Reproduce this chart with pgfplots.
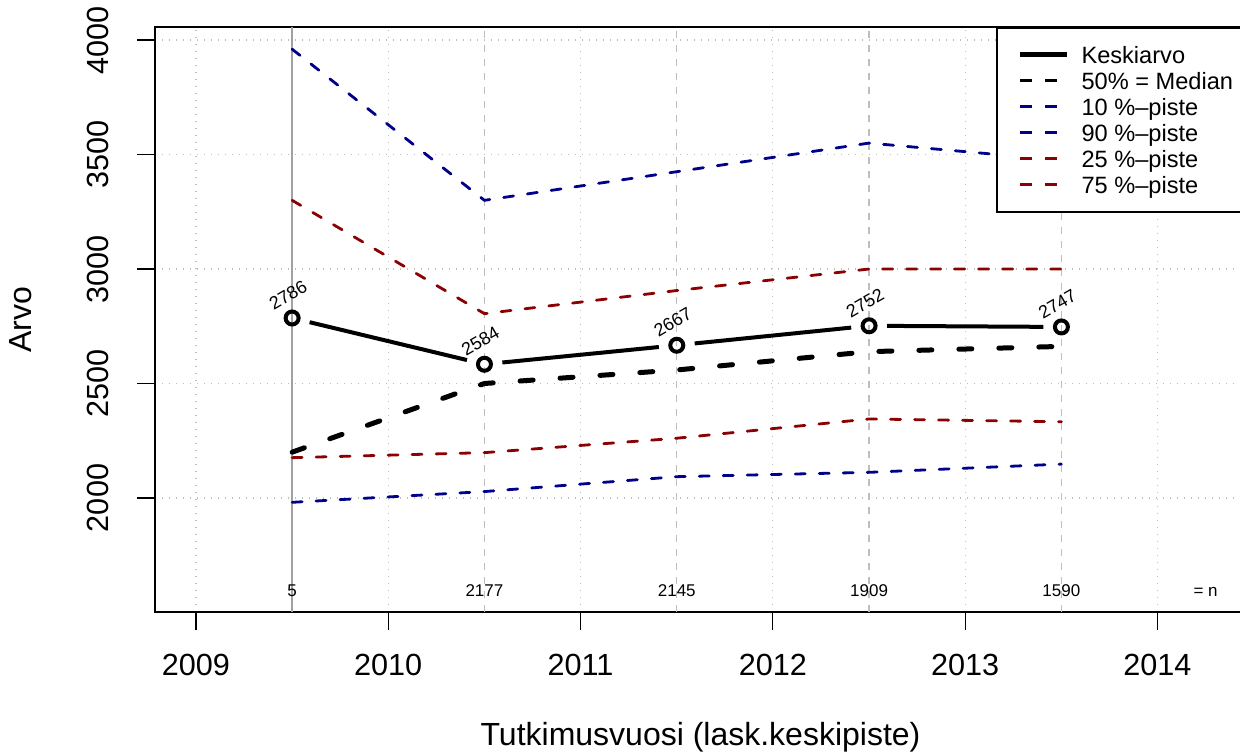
\documentclass[border=0pt]{standalone}
\usepackage{fontspec}
\setmainfont{Liberation Sans}
\usepackage{pgfplots}
\pgfplotsset{compat=1.18}
\definecolor{rblue}{RGB}{0,0,139}
\definecolor{rred}{RGB}{139,0,0}
\definecolor{rgray}{RGB}{190,190,190}

\begin{document}
\begin{tikzpicture}
\path[use as bounding box] (0,0) rectangle (620pt,377.5pt);
\clip (0,0) rectangle (620pt,377.5pt);
\begin{axis}[
    at={(77.5pt,71.5pt)}, anchor=south west,
    scale only axis, width=545.5pt, height=292.5pt,
    xmin=2008.787, xmax=2014.46,
    ymin=1502, ymax=4057,
    xtick={2009,...,2014},
    ytick={2000,2500,...,4000},
    xtick pos=bottom, ytick pos=left,
    tick align=outside, major tick length=9pt,
    tick style={black, line width=0.6pt},
    axis line style={black, line width=1pt},
    grid=major,
    major grid style={rgray, line width=0.6pt, dash pattern=on 0.6pt off 2.9pt},
    /pgf/number format/assume math mode=true,
    /pgf/number format/1000 sep={},
    ticklabel style={font=\fontsize{15.3}{18}\selectfont},
    xticklabel style={anchor=base, inner sep=0pt, yshift=-22.5pt},
    yticklabel style={xshift=-14pt, rotate=90, anchor=south, inner sep=0pt},
    xlabel={Tutkimusvuosi (lask.keskipiste)},
    ylabel={Arvo},
    label style={font=\fontsize{16}{19}\selectfont},
    xlabel style={at={(axis description cs:0.5,-0.2285)}, anchor=base, inner sep=0pt},
    ylabel style={at={(axis description cs:-0.1128,0.5)}, anchor=south, inner sep=0pt},
    legend image code/.code={\draw[#1] (0pt,0pt) -- (23.5pt,0pt);},
    legend cell align=left,
    legend style={at={(rel axis cs:0.7704,1)}, anchor=north west,
        draw=black, line width=1pt, fill=white,
        inner xsep=10.5pt, inner ysep=7pt, column sep=4pt, row sep=0pt,
        font=\fontsize{11.8}{13}\selectfont,
        nodes={inner xsep=2pt, inner ysep=0.5pt, text height=10.5pt, text depth=1.5pt}},
]

% reference lines at the survey years
\addplot[rgray!85!black, line width=1pt, forget plot] coordinates {(2009.5,1502) (2009.5,4057)};
\addplot[rgray, line width=0.7pt, dash pattern=on 3.5pt off 3.5pt, forget plot] coordinates {(2010.5,1502) (2010.5,4057)};
\addplot[rgray, line width=0.7pt, dash pattern=on 3.5pt off 3.5pt, forget plot] coordinates {(2011.5,1502) (2011.5,4057)};
\addplot[rgray, line width=0.7pt, dash pattern=on 3.5pt off 3.5pt, forget plot] coordinates {(2012.5,1502) (2012.5,4057)};
\addplot[rgray, line width=0.7pt, dash pattern=on 3.5pt off 3.5pt, forget plot] coordinates {(2013.5,1502) (2013.5,4057)};

% percentiles
\addplot[rblue, line width=1.4pt, line cap=round, dash pattern=on 5pt off 7pt, forget plot] coordinates {
    (2009.5,1981) (2010.5,2028) (2011.5,2093) (2012.5,2112) (2013.5,2148)};
\addplot[rblue, line width=1.4pt, line cap=round, dash pattern=on 5pt off 7pt, forget plot] coordinates {
    (2009.5,3960) (2010.5,3300) (2011.5,3425) (2012.5,3550) (2013.5,3475)};
\addplot[rred, line width=1.4pt, line cap=round, dash pattern=on 5pt off 7pt, forget plot] coordinates {
    (2009.5,2176) (2010.5,2198) (2011.5,2261) (2012.5,2345) (2013.5,2333)};
\addplot[rred, line width=1.4pt, line cap=round, dash pattern=on 5pt off 7pt, forget plot] coordinates {
    (2009.5,3300) (2010.5,2805) (2011.5,2906) (2012.5,3000) (2013.5,3000)};

% median
\addplot[black, line width=2.5pt, line cap=round, dash pattern=on 6.5pt off 13.5pt, forget plot] coordinates {
    (2009.5,2200) (2010.5,2500) (2011.5,2559) (2012.5,2639) (2013.5,2662)};

% mean, lines broken around the points
\addplot[black, line width=2pt, shorten <=9pt, shorten >=9pt, forget plot] coordinates {(2009.5,2786) (2010.5,2584)};
\addplot[black, line width=2pt, shorten <=9pt, shorten >=9pt, forget plot] coordinates {(2010.5,2584) (2011.5,2667)};
\addplot[black, line width=2pt, shorten <=9pt, shorten >=9pt, forget plot] coordinates {(2011.5,2667) (2012.5,2752)};
\addplot[black, line width=2pt, shorten <=9pt, shorten >=9pt, forget plot] coordinates {(2012.5,2752) (2013.5,2747)};
\addplot[black, only marks, mark=o, mark size=3.25pt, mark options={line width=2pt}, forget plot,
    point meta=y, nodes near coords={\pgfmathprintnumber[fixed,precision=0,1000 sep={}]{\pgfplotspointmeta}},
    nodes near coords style={font=\fontsize{9}{10}\selectfont, anchor=center, xshift=-2pt, yshift=11.5pt, rotate=30}]
    coordinates {(2009.5,2786) (2010.5,2584) (2011.5,2667) (2012.5,2752) (2013.5,2747)};

% group sizes
\addplot[draw=none, mark=none, forget plot, point meta=explicit symbolic, nodes near coords,
    nodes near coords style={font=\fontsize{8.5}{10}\selectfont, anchor=base, inner sep=0pt}]
    table[meta=n] {
x y n
2009.5 1568 5
2010.5 1568 2177
2011.5 1568 2145
2012.5 1568 1909
2013.5 1568 1590
2014.25 1568 {=\ n}
};

\addlegendimage{black, line width=2.5pt}
\addlegendimage{black, line width=1.5pt, dash pattern=on 6pt off 6.5pt}
\addlegendimage{rblue, line width=1.5pt, dash pattern=on 6pt off 6.5pt}
\addlegendimage{rblue, line width=1.5pt, dash pattern=on 6pt off 6.5pt}
\addlegendimage{rred, line width=1.5pt, dash pattern=on 6pt off 6.5pt}
\addlegendimage{rred, line width=1.5pt, dash pattern=on 6pt off 6.5pt}
\legend{Keskiarvo, 50\% = Median, 10 \%–piste, 90 \%–piste, 25 \%–piste, 75 \%–piste}
\end{axis}
\end{tikzpicture}
\end{document}
